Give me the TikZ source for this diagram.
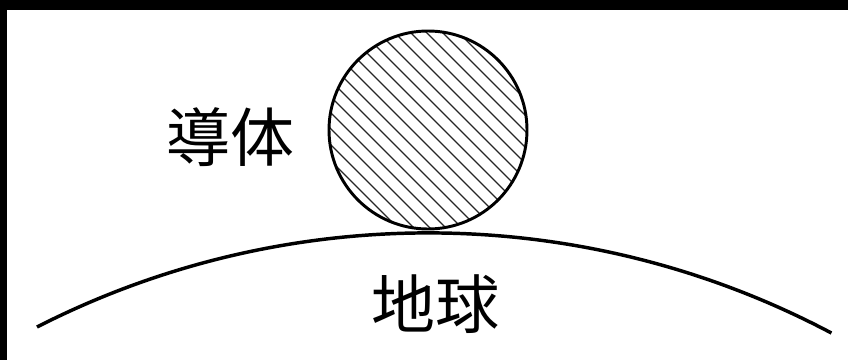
\documentclass[tikz,border=0pt]{standalone}
\usepackage{fontspec}
\newfontfamily\jpfont{Noto Sans CJK JP}
\begin{document}
\begin{tikzpicture}[x=.75pt,y=-.75pt,every node/.style={font=\jpfont\fontsize{48}{50}\selectfont}]
\useasboundingbox (0,0) rectangle (848,360);
\fill (0,0) rectangle (848,10); \fill (0,0) rectangle (7,360);
% hatched conductor
\begin{scope}\clip (428,130) circle (99);
\foreach \c in {-144,-128,...,144} \draw[line width=.9pt,black!85] (428+\c-160,130-160) -- ++(320,320);
\end{scope}
\node[circle,draw,line width=2.2pt,minimum size=148.5pt,inner sep=0pt] (ball) at (428,130) {};
\node (dotai) at (230,137) {導体};
% earth surface
\draw[line width=2.6pt] (37,327) arc[start angle=-117.04,end angle=-62.09,radius=861];
\node (chikyu) at (435,304) {地球};
\end{tikzpicture}
\end{document}
